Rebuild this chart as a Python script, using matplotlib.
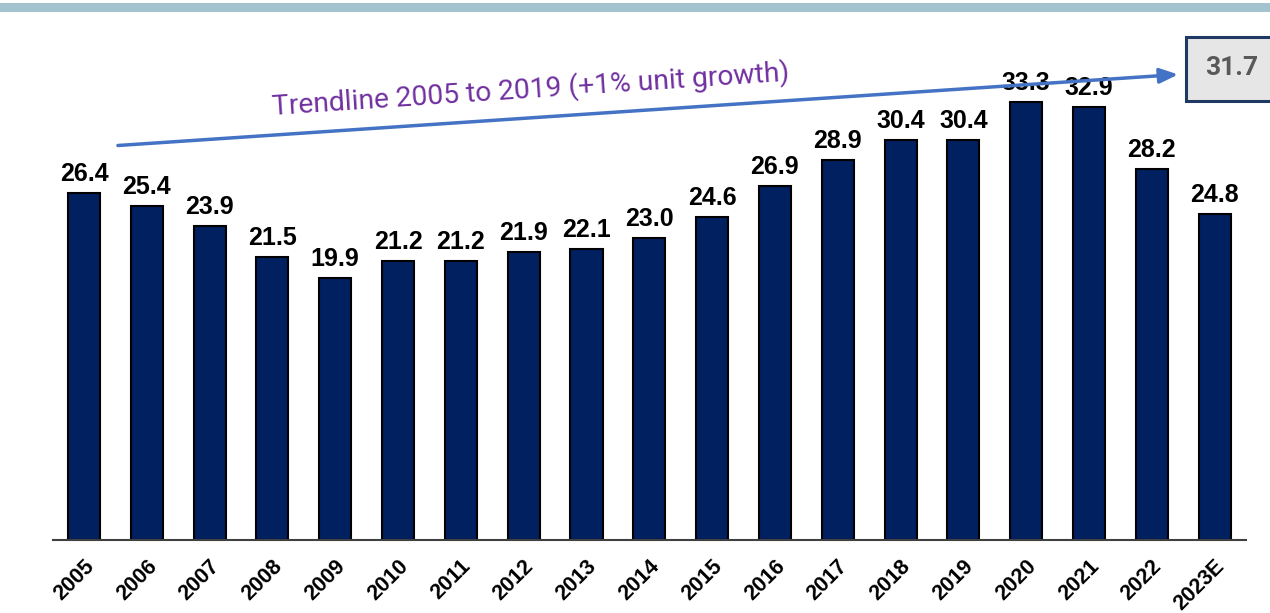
import matplotlib
matplotlib.use("Agg")
import matplotlib.pyplot as plt
from matplotlib.patches import Rectangle
import matplotlib.transforms as mtransforms

years = ["2005", "2006", "2007", "2008", "2009", "2010", "2011", "2012", "2013",
         "2014", "2015", "2016", "2017", "2018", "2019", "2020", "2021", "2022", "2023E"]
units = [26.4, 25.4, 23.9, 21.5, 19.9, 21.2, 21.2, 21.9, 22.1,
         23.0, 24.6, 26.9, 28.9, 30.4, 30.4, 33.3, 32.9, 28.2, 24.8]
trend_label = "Trendline 2005 to 2019 (+1% unit growth)"
trend_x = [0.54, 17.42]
trend_y = [30.0, 35.4]
trend_value = "31.7"

W, H = 1270, 613
fig = plt.figure(figsize=(W / 100, H / 100), dpi=100)
fig.patch.set_facecolor("white")

# top band
fig.patches.append(Rectangle((0, 1 - 12 / H), 1, 9 / H, transform=fig.transFigure,
                             facecolor="#A3C4CE", edgecolor="none"))

ax = fig.add_axes([52.6 / W, 73 / H, (1246 - 52.6) / W, 520 / H])
x = list(range(len(years)))
ax.bar(x, units, width=0.51, color="#002060", edgecolor="black", linewidth=1.5, zorder=2)
ax.set_xlim(-0.5, len(years) - 0.5)
ax.set_ylim(0, 520 / 13.15)

for s in ["top", "right", "left"]:
    ax.spines[s].set_visible(False)
ax.spines["bottom"].set_color("#404040")
ax.spines["bottom"].set_linewidth(1.5)
ax.set_yticks([])
ax.set_xticks(x)
ax.set_xticklabels(years, rotation=45, ha="right", va="center", rotation_mode="anchor",
                   fontsize=15.5, fontweight="bold", family="Liberation Sans")
ax.tick_params(axis="x", length=0, pad=16.5)
offset = mtransforms.ScaledTranslation(7 / 100, 0, fig.dpi_scale_trans)
for lab in ax.get_xticklabels():
    lab.set_transform(lab.get_transform() + offset)

for xi, v in zip(x, units):
    ax.annotate(f"{v:.1f}", (xi, v), xytext=(0, 5), textcoords="offset points",
                ha="center", va="bottom", fontsize=18, fontweight="bold",
                family="Liberation Sans", color="black", zorder=3)

ax.annotate("", xy=(trend_x[1], trend_y[1]), xytext=(trend_x[0], trend_y[0]),
            arrowprops=dict(arrowstyle="-|>,head_length=1.1,head_width=0.45",
                            color="#4472C4", lw=2.5, shrinkA=0, shrinkB=0),
            zorder=5, annotation_clip=False)

fig.text(531 / W, 1 - 89 / H, trend_label, rotation=3.8, ha="center", va="center",
         fontsize=20.3, family="Roboto", color="#7030A0", rotation_mode="anchor")

# value box
fig.patches.append(Rectangle((1186 / W, 1 - 101 / H), 100 / W, 64 / H, transform=fig.transFigure,
                             facecolor="#E7E6E6", edgecolor="#1F3864", linewidth=2.2, zorder=6))
fig.text(1232 / W, 1 - 68 / H, trend_value, ha="center", va="center", fontsize=19,
         fontweight="bold", family="Roboto", color="#595959", zorder=7)

fig.savefig("out.png", dpi=100, facecolor="white")
